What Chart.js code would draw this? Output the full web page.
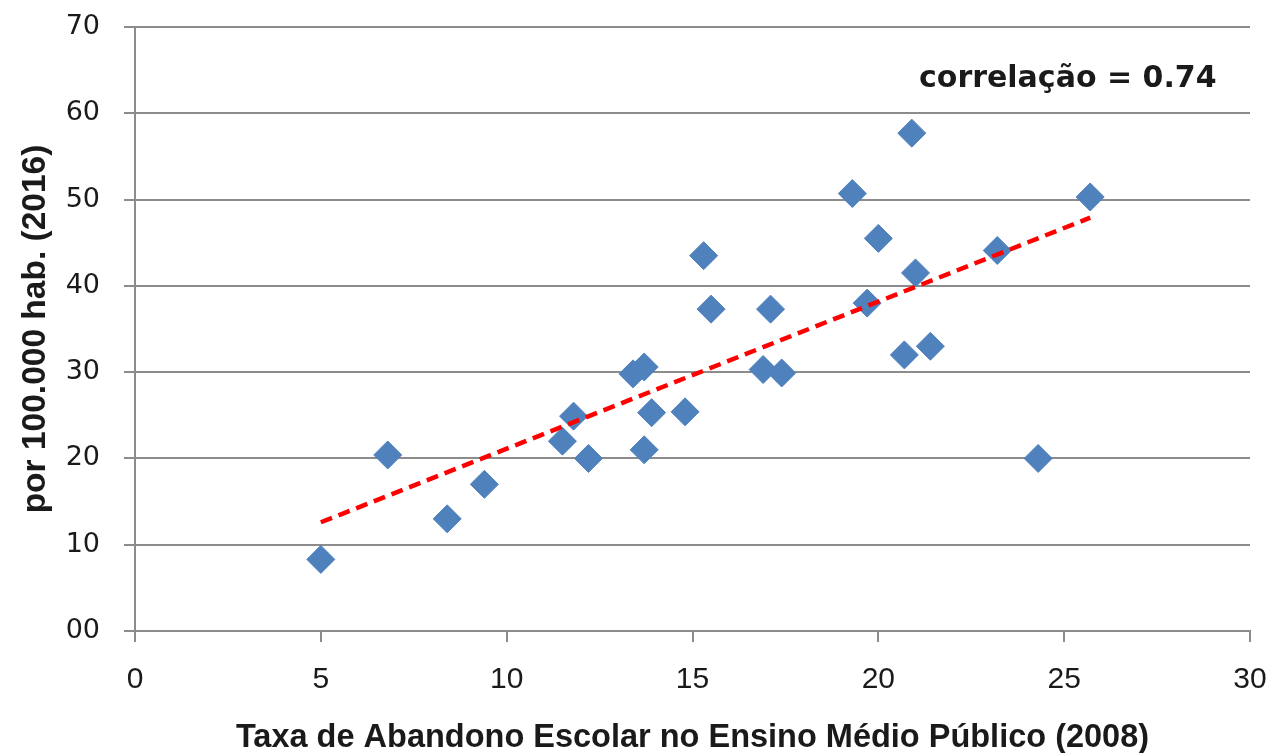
<!DOCTYPE html>
<html lang="pt-br">

<head>
    <meta charset="UTF-8">
    <title>Correlação abandono escolar</title>
    <script src="https://cdn.jsdelivr.net/npm/chart.js"></script>
    <style>
        body { margin: 0; background: #ffffff; }
        canvas { display: block; }
    </style>
</head>

<body>
    <canvas id="grafico_dispersao" width="1270" height="753"></canvas>
</body>

</html>
<script>
    // valores
    var abandono = [5.0, 6.8, 8.4, 9.4, 11.5, 11.8, 12.2, 13.4, 13.7, 13.7, 13.9, 14.8, 15.3, 15.5,
        16.9, 17.1, 17.4, 19.3, 19.7, 20.0, 20.7, 20.9, 21.0, 21.4, 23.2, 24.3, 25.7];
    var taxa = [8.3, 20.4, 13.0, 17.0, 22.0, 24.9, 20.0, 29.8, 30.6, 21.0, 25.3, 25.4, 43.5, 37.3,
        30.3, 37.3, 29.9, 50.7, 38.0, 45.5, 32.0, 57.7, 41.5, 33.0, 44.1, 20.0, 50.3];

    // linha de tendência (pontas)
    var tendenciaX = [5.0, 25.7];
    var tendenciaY = [12.6, 47.9];

    var ticksX = [0, 5, 10, 15, 20, 25, 30];
    var ticksY = [0, 10, 20, 30, 40, 50, 60, 70];

    var textoCorrelacao = 'correlação = 0.74';

    var pontos = [];
    for (var i = 0; i < abandono.length; i++) {
        pontos.push({ x: abandono[i], y: taxa[i] });
    }
    var linha = [];
    for (var j = 0; j < tendenciaX.length; j++) {
        linha.push({ x: tendenciaX[j], y: tendenciaY[j] });
    }

    // escreve a correlação no canto de cima
    var pluginCorrelacao = {
        id: 'correlacao',
        afterDraw: function (chart) {
            var ctx = chart.ctx;
            ctx.save();
            ctx.font = 'bold 30px "DejaVu Sans"';
            ctx.fillStyle = '#1a1a1a';
            ctx.textAlign = 'right';
            ctx.textBaseline = 'middle';
            ctx.fillText(textoCorrelacao, chart.scales.x.getPixelForValue(29.1), chart.scales.y.getPixelForValue(63.9));
            ctx.restore();
        }
    };

    // tira o espaço extra que o Chart.js reserva para os rótulos das pontas
    function zerarPadding(scale) {
        scale.paddingTop = 0;
        scale.paddingBottom = 0;
        scale.paddingLeft = 0;
        scale.paddingRight = 0;
    }

    var ctx = document.getElementById('grafico_dispersao').getContext('2d');

    window.grafico_dispersao = new Chart(ctx, {
        type: 'scatter',
        data: {
            datasets: [
                {
                    label: 'tendência',
                    data: linha,
                    showLine: true,
                    borderColor: '#ff0000',
                    borderWidth: 4.5,
                    borderDash: [12, 7],
                    pointRadius: 0,
                    order: 0
                },
                {
                    label: 'UF',
                    data: pontos,
                    pointStyle: 'rectRot',
                    pointRadius: 14,
                    backgroundColor: '#4f81bd',
                    borderColor: '#4f81bd',
                    borderWidth: 1,
                    order: 1
                }
            ]
        },
        options: {
            responsive: false,
            animation: false,
            devicePixelRatio: 1,
            layout: { padding: { top: 27, right: 20, left: 0, bottom: 0 } },
            plugins: {
                legend: { display: false },
                tooltip: { enabled: false }
            },
            scales: {
                x: {
                    type: 'linear',
                    min: 0,
                    max: 30,
                    afterBuildTicks: function (scale) {
                        scale.ticks = ticksX.map(function (v) { return { value: v }; });
                    },
                    afterFit: function (scale) {
                        scale.height = 122;
                        zerarPadding(scale);
                    },
                    grid: {
                        drawOnChartArea: false,
                        drawTicks: true,
                        tickLength: 11,
                        color: '#8c8c8c',
                        lineWidth: 2
                    },
                    border: { color: '#8c8c8c', width: 2 },
                    ticks: {
                        padding: 20,
                        color: '#1a1a1a',
                        font: { family: '"Liberation Sans Narrow", "Liberation Sans"', size: 30 }
                    },
                    title: {
                        display: true,
                        text: 'Taxa de Abandono Escolar no Ensino Médio Público (2008)',
                        color: '#1a1a1a',
                        font: { family: '"Liberation Sans Narrow", "Liberation Sans"', size: 32.5, weight: 'bold', lineHeight: 0.9 },
                        padding: { top: 0, bottom: 0 }
                    }
                },
                y: {
                    type: 'linear',
                    min: 0,
                    max: 70,
                    afterBuildTicks: function (scale) {
                        scale.ticks = ticksY.map(function (v) { return { value: v }; });
                    },
                    afterFit: function (scale) {
                        scale.width = 135;
                        zerarPadding(scale);
                    },
                    grid: {
                        color: '#8c8c8c',
                        lineWidth: 2,
                        tickLength: 11
                    },
                    border: { color: '#8c8c8c', width: 2 },
                    ticks: {
                        padding: 24,
                        color: '#1a1a1a',
                        font: { family: '"DejaVu Sans"', size: 27 },
                        callback: function (valor) {
                            return valor === 0 ? '00' : String(valor);
                        }
                    },
                    title: {
                        display: true,
                        text: 'por 100.000 hab. (2016)',
                        color: '#1a1a1a',
                        font: { family: '"Liberation Sans Narrow", "Liberation Sans"', size: 33.5, weight: 'bold' },
                        padding: { top: 16, bottom: 0 }
                    }
                }
            }
        },
        plugins: [pluginCorrelacao]
    });
</script>
